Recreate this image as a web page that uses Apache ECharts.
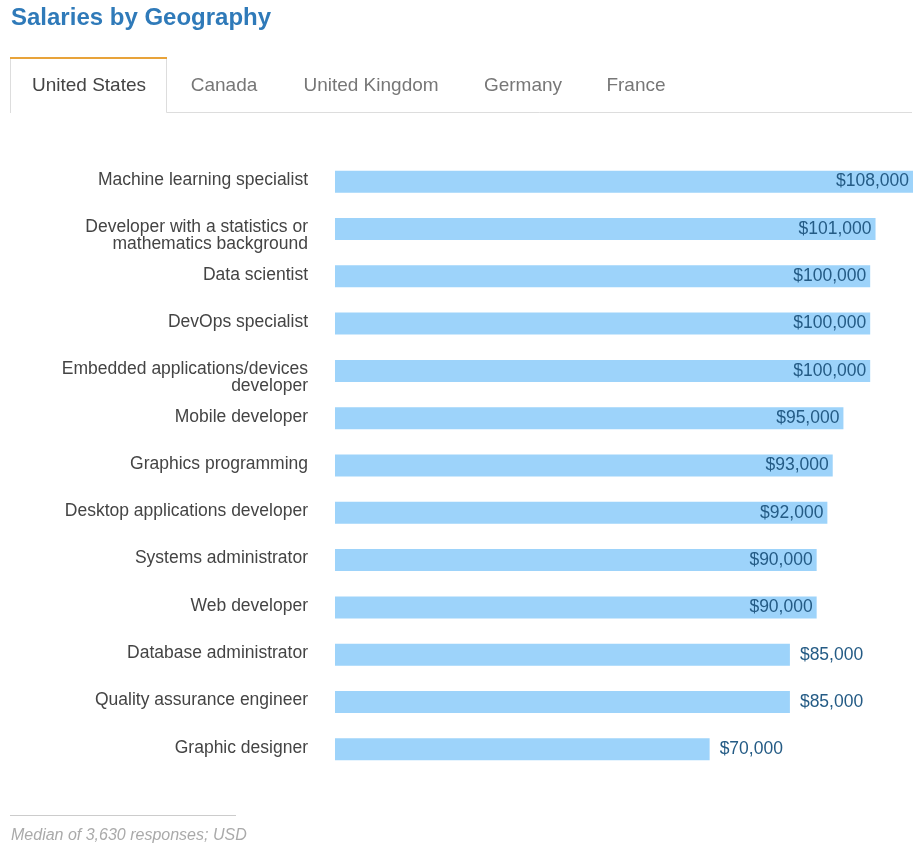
<!DOCTYPE html>
<html><head><meta charset="utf-8">
<script src="https://cdn.jsdelivr.net/npm/echarts@6/dist/echarts.min.js"></script>
<style>html,body{margin:0;padding:0;background:#fff}#c{width:920px;height:860px}</style>
</head><body><div id="c"></div>
<script>
const categories = [
  "Machine learning specialist",
  "Developer with a statistics or\nmathematics background",
  "Data scientist",
  "DevOps specialist",
  "Embedded applications/devices\ndeveloper",
  "Mobile developer",
  "Graphics programming",
  "Desktop applications developer",
  "Systems administrator",
  "Web developer",
  "Database administrator",
  "Quality assurance engineer",
  "Graphic designer"
];
const salaries = [108000, 101000, 100000, 100000, 100000, 95000, 93000, 92000, 90000, 90000, 85000, 85000, 70000];
const tabs = ["United States", "Canada", "United Kingdom", "Germany", "France"];
const tabX = [89, 224, 371, 523, 636];
const titleText = "Salaries by Geography";
const footnote = "Median of 3,630 responses; USD";

const font = "'Liberation Sans', Arial, sans-serif";
const chart = echarts.init(document.getElementById('c'), null, {renderer: 'canvas'});

const fmt = v => '$' + v.toLocaleString('en-US');

const graphics = [
  {type: 'polyline', shape: {points: [[10.5, 113], [10.5, 58], [166.5, 58], [166.5, 112.5], [912, 112.5]]},
   style: {stroke: '#dddddd', lineWidth: 1, fill: null}},
  {type: 'rect', shape: {x: 10, y: 57, width: 157, height: 2}, style: {fill: '#e8a33a'}},
  {type: 'line', shape: {x1: 10, y1: 815.5, x2: 236, y2: 815.5}, style: {stroke: '#cccccc', lineWidth: 1}},
  {type: 'text', x: 11, y: 836, style: {text: footnote, font: 'italic 16px ' + font, fill: '#aaaaaa', textVerticalAlign: 'middle'}}
];
tabs.forEach((t, i) => {
  graphics.push({type: 'text', x: tabX[i], y: 86, style: {
    text: t, font: '19px ' + font, fill: i === 0 ? '#444444' : '#777777',
    textAlign: 'center', textVerticalAlign: 'middle'}});
});

chart.setOption({
  animation: false,
  title: {text: titleText, left: 6, top: 1,
    textStyle: {fontFamily: font, fontSize: 24, fontWeight: 'bold', color: '#2f7ab9'}},
  graphic: graphics,
  grid: {left: 335, right: 7, top: 158, bottom: 87, containLabel: false},
  xAxis: {type: 'value', min: 0, max: 108000, show: false},
  yAxis: {type: 'category', data: categories, inverse: true,
    axisLine: {show: false}, axisTick: {show: false},
    axisLabel: {margin: 27, color: '#444444', fontFamily: font, fontSize: 17.5,
      lineHeight: 17, verticalAlign: 'top', padding: [-10, 0, 0, 0]}},
  series: [{
    type: 'bar', barWidth: 22,
    data: salaries.map(v => ({value: v, label: {position: v >= 90000 ? 'insideRight' : 'right',
      distance: v >= 90000 ? 4 : 10}})),
    itemStyle: {color: '#9dd3fa'},
    label: {show: true, formatter: p => fmt(p.value), color: '#245b85',
      fontFamily: font, fontSize: 17.5}
  }]
});
</script></body></html>
